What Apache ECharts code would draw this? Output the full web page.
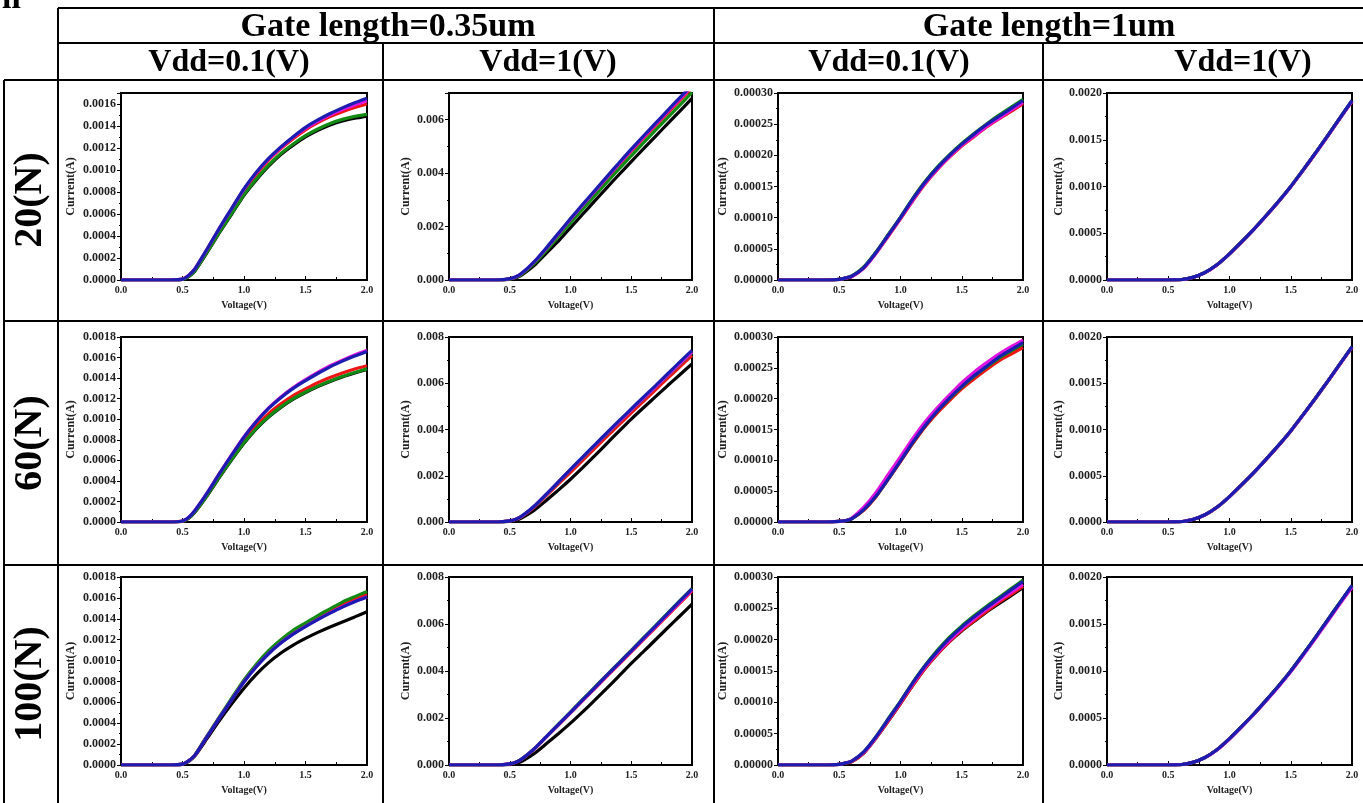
<!DOCTYPE html>
<html>
<head>
<meta charset="utf-8">
<title>Current-Voltage curves by load, gate length and Vdd</title>
<script src="https://cdn.jsdelivr.net/npm/echarts@6/dist/echarts.min.js"></script>
<style>body{margin:0;background:#fff;} #main{width:1363px;height:803px;}</style>
</head>
<body>
<div id="main"></div>
<script type="text/javascript">
// gate voltage samples (V), shared by every panel
var voltage = [0, 0.4, 0.5, 0.55, 0.6, 0.7, 0.8, 0.9, 1.0, 1.1, 1.2, 1.3, 1.4, 1.5, 1.6, 1.7, 1.8, 1.9, 2.0];

var gateHeaders = ['Gate length=0.35um', 'Gate length=1um'];
var vddHeaders = ['Vdd=0.1(V)', 'Vdd=1(V)', 'Vdd=0.1(V)', 'Vdd=1(V)'];
var loadLabels = ['20(N)', '60(N)', '100(N)'];

// y axis: max and step in uA, label decimals in A
var yMaxRows = [[1700, 7000, 300, 2000], [1800, 8000, 300, 2000], [1800, 8000, 300, 2000]];
var yStep = [200, 2000, 50, 500];
var yDecimals = [4, 3, 5, 4];

// currents in uA, order: black, red, green, magenta, blue
var r1c1 = [
  [0,0,5,30,80,250,430,600,770,910,1035,1140,1225,1300,1360,1410,1445,1470,1490],
  [0,0,8,40,95,270,460,640,810,960,1090,1195,1285,1365,1430,1485,1530,1568,1600],
  [0,0,5,32,82,255,435,605,775,918,1045,1150,1237,1312,1373,1423,1460,1487,1505],
  [0,0,8,42,100,280,470,650,825,975,1100,1205,1298,1378,1445,1502,1550,1592,1630],
  [0,0,8,42,100,282,472,652,830,980,1105,1210,1303,1388,1455,1514,1565,1612,1653]
];
var r1c2 = [
  [0,0,25,75,190,540,1000,1450,1960,2460,2960,3460,3950,4430,4910,5380,5850,6320,6800],
  [0,0,45,110,245,655,1165,1710,2260,2780,3300,3810,4320,4820,5300,5780,6250,6720,7190],
  [0,0,35,95,220,610,1100,1620,2140,2650,3160,3660,4160,4650,5130,5610,6080,6550,7020],
  [0,0,48,115,250,665,1180,1725,2275,2800,3320,3840,4350,4860,5350,5830,6310,6780,7250],
  [0,0,50,120,260,680,1200,1750,2300,2830,3350,3870,4390,4900,5390,5870,6350,6830,7300]
];
var r1c3 = [
  [0,0,1,3,6,20,44,72,100,129,156,179,199,217,232,247,260,273,286],
  [0,0,1,3,5,19,43,70,98,127,154,177,197,215,230,245,258,270,283],
  [0,0,1,3,6,21,45,73,101,131,158,181,201,219,235,250,264,277,290],
  [0,0,1,3,5,19,43,71,99,128,155,178,198,216,231,246,259,272,285],
  [0,0,1,3,6,20,44,72,100,130,157,180,200,218,234,249,262,275,288]
];
var r1c4 = [
  [0,0,0,1,3,28,80,165,280,410,545,690,840,1000,1175,1355,1540,1730,1915],
  [0,0,0,1,3,27,79,164,279,408,543,687,837,996,1170,1350,1535,1725,1910],
  [0,0,0,1,3,28,80,166,281,411,546,691,841,1001,1176,1357,1542,1732,1918],
  [0,0,0,1,3,27,79,164,279,409,544,688,838,998,1172,1352,1537,1727,1912],
  [0,0,0,1,3,28,80,165,280,410,545,690,840,1000,1175,1355,1540,1730,1920]
];
var r2c1 = [
  [0,0,7,38,95,255,435,605,765,905,1020,1115,1195,1260,1318,1368,1412,1450,1485],
  [0,0,8,40,100,265,450,625,790,935,1055,1150,1230,1295,1355,1405,1450,1488,1520],
  [0,0,7,38,96,258,440,610,770,910,1025,1120,1200,1265,1322,1372,1416,1454,1490],
  [0,0,10,45,112,283,473,655,830,980,1110,1217,1308,1385,1455,1520,1575,1625,1670],
  [0,0,10,45,110,280,470,650,825,975,1105,1210,1300,1375,1445,1510,1565,1615,1660]
];
var r2c2 = [
  [0,0,25,70,180,500,930,1380,1850,2350,2870,3400,3930,4450,4940,5420,5900,6370,6840],
  [0,0,45,110,240,640,1140,1650,2150,2670,3180,3700,4210,4720,5220,5720,6220,6710,7200],
  [0,0,48,116,252,665,1180,1715,2250,2775,3300,3815,4330,4840,5340,5840,6340,6830,7330],
  [0,0,48,117,255,670,1185,1720,2260,2790,3310,3830,4340,4850,5350,5850,6350,6850,7350],
  [0,0,50,120,260,680,1200,1740,2280,2810,3340,3860,4380,4890,5400,5900,6410,6920,7420]
];
var r2c3 = [
  [0,0,1,2,5,20,42,70,99,128,155,178,199,218,234,249,263,275,286],
  [0,0,1,2,5,19,41,69,98,127,154,177,197,216,232,247,261,272,283],
  [0,0,1,2,5,20,42,70,100,129,156,180,200,219,236,251,265,277,289],
  [0,0,1,2,6,24,48,77,106,135,162,185,206,226,243,258,272,284,295],
  [0,0,1,2,5,20,42,70,99,129,156,180,201,220,237,252,267,279,291]
];
var r2c4 = [
  [0,0,0,1,3,27,78,162,275,403,537,680,828,985,1158,1335,1518,1706,1892],
  [0,0,0,1,3,27,77,161,274,402,535,678,826,982,1155,1332,1515,1702,1888],
  [0,0,0,1,3,27,78,162,276,404,538,681,829,986,1159,1336,1519,1707,1894],
  [0,0,0,1,3,27,78,162,275,403,536,679,827,984,1157,1334,1517,1704,1890],
  [0,0,0,1,3,27,78,162,275,403,537,680,828,985,1158,1335,1518,1706,1895]
];
var r3c1 = [
  [0,0,6,35,85,255,425,585,735,868,980,1072,1148,1212,1270,1322,1370,1418,1468],
  [0,0,8,40,93,275,455,632,805,952,1080,1185,1272,1345,1413,1477,1537,1590,1637],
  [0,0,8,40,95,280,460,640,815,965,1095,1200,1290,1360,1430,1495,1560,1612,1662],
  [0,0,8,40,92,272,450,626,797,942,1067,1170,1256,1328,1395,1457,1515,1566,1612],
  [0,0,8,40,92,272,450,625,795,940,1065,1167,1253,1325,1392,1454,1512,1563,1608]
];
var r3c2 = [
  [0,0,20,60,160,480,900,1330,1780,2260,2760,3270,3790,4320,4820,5330,5840,6340,6850],
  [0,0,48,116,255,670,1185,1700,2215,2740,3255,3780,4295,4810,5330,5850,6370,6890,7410],
  [0,0,52,122,264,688,1210,1735,2260,2790,3310,3840,4360,4880,5410,5930,6460,6990,7510],
  [0,0,49,118,257,675,1192,1710,2228,2755,3272,3800,4318,4835,5360,5880,6405,6930,7450],
  [0,0,50,120,260,680,1200,1720,2240,2770,3290,3820,4340,4860,5390,5910,6440,6970,7490]
];
var r3c3 = [
  [0,0,1,3,5,19,43,70,98,127,154,177,197,214,229,244,257,270,283],
  [0,0,1,3,5,19,43,70,98,127,154,177,197,215,230,245,259,272,285],
  [0,0,1,3,6,21,45,74,102,132,159,183,204,222,238,253,267,281,295],
  [0,0,1,3,6,20,44,72,100,129,156,179,199,217,233,248,262,275,288],
  [0,0,1,3,6,21,45,73,101,131,158,181,202,220,236,251,265,279,293]
];
var r3c4 = [
  [0,0,0,1,3,28,80,165,280,410,545,690,840,1000,1175,1355,1540,1725,1905],
  [0,0,0,1,3,28,79,164,279,409,544,688,838,997,1171,1350,1534,1718,1898],
  [0,0,0,1,3,28,80,165,280,410,545,690,840,1000,1175,1355,1540,1726,1908],
  [0,0,0,1,3,27,78,163,277,406,540,684,833,992,1165,1343,1527,1711,1890],
  [0,0,0,1,3,28,80,165,280,410,545,690,840,1000,1175,1355,1540,1725,1910]
];

var panels = [[r1c1, r1c2, r1c3, r1c4], [r2c1, r2c2, r2c3, r2c4], [r3c1, r3c2, r3c3, r3c4]];

var colors = ['#000000', '#ee1515', '#138a13', '#e014e0', '#1c1cb0'];
var serif = '"Liberation Serif", "Times New Roman", serif';

var colLeft = [121, 449, 778, 1107];
var colWidth = [246, 243, 245, 245];
var rowTop = [93, 337, 577];
var rowHeight = [187, 185, 188];
var yNameGap = [44, 37, 49, 40];

var grids = [], xAxes = [], yAxes = [], series = [];

panels.forEach(function (row, r) {
  row.forEach(function (p, c) {
    var i = grids.length;
    var step = yStep[c], dec = yDecimals[c];
    grids.push({
      left: colLeft[c], top: rowTop[r], width: colWidth[c], height: rowHeight[r],
      show: true, borderColor: '#000', borderWidth: 2, backgroundColor: '#fff',
      outerBoundsMode: 'none'
    });
    xAxes.push({
      gridIndex: i, type: 'value', min: 0, max: 2, interval: 0.5,
      axisLine: { lineStyle: { color: '#000', width: 2 } },
      axisTick: { inside: true, length: 4, lineStyle: { color: '#000' } },
      minorTick: { show: true, splitNumber: 2, length: 3, lineStyle: { color: '#000' } },
      splitLine: { show: false },
      axisLabel: {
        margin: 5, color: '#222', fontFamily: serif, fontWeight: 'bold', fontSize: 10,
        formatter: function (v) { return v.toFixed(1); }
      },
      name: 'Voltage(V)', nameLocation: 'middle', nameGap: 20,
      nameTextStyle: { color: '#222', fontFamily: serif, fontWeight: 'bold', fontSize: 10 }
    });
    yAxes.push({
      gridIndex: i, type: 'value', min: 0, max: yMaxRows[r][c], interval: step,
      axisLine: { lineStyle: { color: '#000', width: 2 } },
      axisTick: { inside: false, length: 4, lineStyle: { color: '#000' } },
      minorTick: { show: true, splitNumber: 2, length: 2, lineStyle: { color: '#000' } },
      splitLine: { show: false },
      axisLabel: {
        margin: 5, color: '#222', fontFamily: serif, fontWeight: 'bold', fontSize: 12,
        formatter: function (v) { return (v % step === 0) ? (v / 1e6).toFixed(dec) : ''; }
      },
      name: 'Current(A)', nameLocation: 'middle', nameGap: yNameGap[c],
      nameTextStyle: { color: '#222', fontFamily: serif, fontWeight: 'bold', fontSize: 12 }
    });
    p.forEach(function (vals, k) {
      series.push({
        type: 'line', xAxisIndex: i, yAxisIndex: i, symbol: 'none',
        smooth: 0.2, silent: true,
        lineStyle: { color: colors[k], width: 3.2 },
        data: voltage.map(function (v, j) { return [v, vals[j]]; })
      });
    });
  });
});

// table rules and header texts
var tableLines = [
  [58, 8, 1363, 8], [58, 43, 1363, 43], [4, 80, 1363, 80],
  [4, 321, 1363, 321], [4, 565, 1363, 565],
  [4, 80, 4, 803], [58, 8, 58, 803], [714, 8, 714, 803],
  [383, 43, 383, 803], [1043, 43, 1043, 803]
];
var graphic = tableLines.map(function (l) {
  return { type: 'line', shape: { x1: l[0], y1: l[1], x2: l[2], y2: l[3] },
           style: { stroke: '#000', lineWidth: 2 } };
});
var gateX = [388, 1049];
gateHeaders.forEach(function (t, k) {
  graphic.push({ type: 'text', style: { text: t, x: gateX[k], y: 27, fill: '#000',
    font: 'bold 34px ' + serif, textAlign: 'center', textVerticalAlign: 'middle' } });
});
var vddX = [229, 548, 889, 1243];
vddHeaders.forEach(function (t, k) {
  graphic.push({ type: 'text', style: { text: t, x: vddX[k], y: 63, fill: '#000',
    font: 'bold 32px ' + serif, textAlign: 'center', textVerticalAlign: 'middle' } });
});
var loadY = [200, 443, 684];
loadLabels.forEach(function (t, k) {
  graphic.push({ type: 'text', x: 31, y: loadY[k], rotation: Math.PI / 2,
    style: { text: t, x: 0, y: 0, fill: '#000', font: 'bold 40px ' + serif,
      textAlign: 'center', textVerticalAlign: 'middle' } });
});
graphic.push({ type: 'text', style: { text: 'll', x: 2, y: 16, fill: '#000',
  font: 'bold 34px ' + serif, textAlign: 'left', textVerticalAlign: 'bottom' } });

var myChart = echarts.init(document.getElementById('main'));
myChart.setOption({
  animation: false,
  backgroundColor: '#fff',
  grid: grids,
  xAxis: xAxes,
  yAxis: yAxes,
  series: series,
  graphic: graphic
});
</script>
</body>
</html>
